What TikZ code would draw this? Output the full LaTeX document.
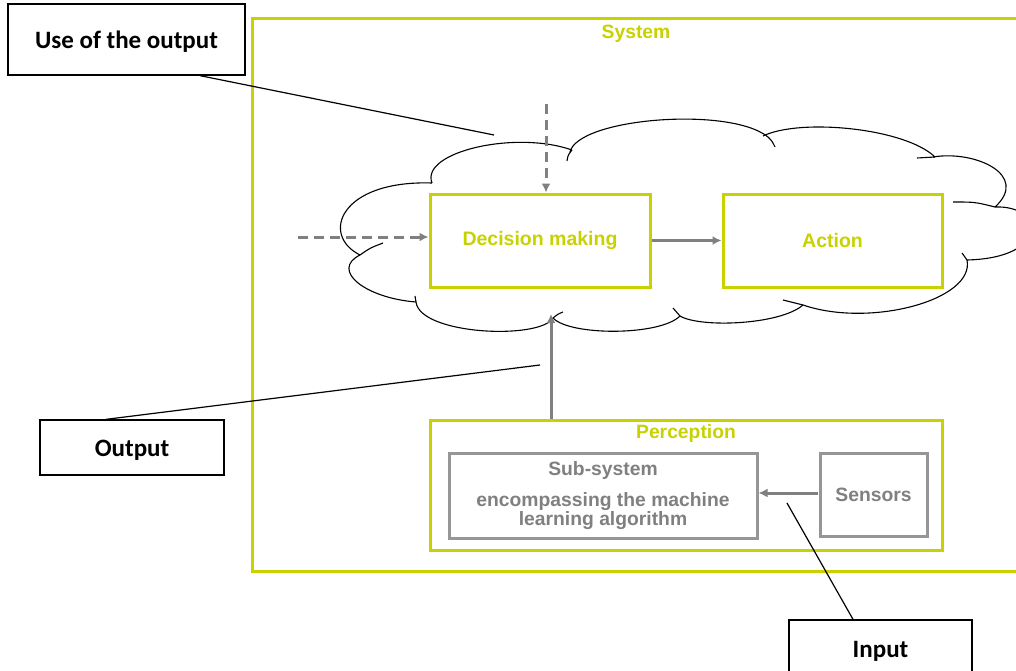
\documentclass[tikz,border=0pt]{standalone}
\usepackage{fontspec}
\setmainfont{Liberation Sans}
\newfontfamily\carlito{Carlito}
\usetikzlibrary{arrows.meta}
\definecolor{ylw}{RGB}{200,210,0}
\definecolor{gry}{RGB}{128,128,128}
\definecolor{gbox}{RGB}{150,150,150}
\begin{document}
\begin{tikzpicture}[x=1pt,y=-1pt,
 lbl/.style={draw=black, line width=1.3pt, fill=white, font=\carlito\bfseries\fontsize{25}{28}\selectfont, inner sep=0pt, text height=23pt, text depth=5pt},
 ybox/.style={draw=ylw, line width=3pt, fill=white, text=ylw, font=\bfseries\fontsize{19.5}{22}\selectfont, inner sep=0pt},
 ytext/.style={text=ylw, font=\bfseries\fontsize{19.3}{22}\selectfont, inner sep=0pt},
 gbx/.style={draw=gbox, line width=3pt, fill=white, text=gry, font=\bfseries\fontsize{19.3}{18.5}\selectfont, inner sep=0pt, align=center},
 garrow/.style={draw=gry, line width=3pt, -{Latex[length=9pt,width=9pt]}},
 dasharrow/.style={garrow, dash pattern=on 10pt off 6pt},
 callout/.style={draw=black, line width=1.2pt},
 cloudline/.style={draw=black, line width=1.1pt}]
\useasboundingbox (0,0) rectangle (1016,671);
\clip (0,0) rectangle (1016,671);
\fill[white] (0,0) rectangle (1016,671);

% system frame
\node[draw=ylw, line width=3pt, minimum width=780pt, minimum height=552pt, inner sep=0pt] (sys) at (642,295) {};
\node[ytext] (systxt) at (636,33.5) {System};

% cloud
\draw[cloudline]
 (432,183) .. controls (420,152) and (515,130) .. (572,150)
 (570,152) .. controls (578,118) and (730,106) .. (768,137)
 (763,136) .. controls (800,118) and (905,128) .. (935,157)
 (933,157) .. controls (975,150) and (1030,175) .. (995,207)
 (995,207) .. controls (1045,205) and (1050,258) .. (967,260)
 (967,260) .. controls (975,300) and (870,328) .. (803,305)
 (803,305) .. controls (780,325) and (700,328) .. (680,316)
 (680,316) .. controls (660,336) and (570,336) .. (553,318)
 (553,318) .. controls (540,340) and (420,335) .. (416,302)
 (416,302) .. controls (365,298) and (330,270) .. (360,255)
 (360,255) .. controls (320,235) and (340,180) .. (432,183);
\draw[cloudline] (572,150) .. controls (568,155) .. (567,161);
\draw[cloudline] (768,137) .. controls (772,141) .. (775,147);
\draw[cloudline] (935,157) .. controls (926,157) .. (917,158);
\draw[cloudline] (995,207) .. controls (975,202) .. (953,202);
\draw[cloudline] (967,260) .. controls (964,257) .. (962,253);
\draw[cloudline] (803,305) .. controls (793,303) .. (783,300);
\draw[cloudline] (680,316) .. controls (676,312) .. (673,308);
\draw[cloudline] (553,318) .. controls (558,314) .. (563,312);
\draw[cloudline] (416,302) .. controls (415,299) .. (415,296);
\draw[cloudline] (360,255) .. controls (370,248) .. (383,243);

% main boxes
\node[ybox, minimum width=220pt, minimum height=93pt] (dm) at (540,240.5) {Decision making};
\node[ybox, minimum width=219pt, minimum height=93pt] (act) at (832.5,240.5) {Action};
\node[ybox, minimum width=512pt, minimum height=130pt] (perc) at (686,485) {};
\node[ytext] (perctxt) at (686,433.5) {Perception};
\node[gbx, minimum width=308pt, minimum height=85pt] (sub) at (603,495.5)
  {Sub-system\\[13pt]encompassing the machine\\learning algorithm};
\node[gbx, minimum width=107pt, minimum height=83pt] (sens) at (873.5,494.5) {Sensors};

% arrows
\draw[garrow] (dm) -- (act);
\coordinate (dtop) at (546,104);
\draw[dasharrow] (dtop) -- (dtop |- dm.north);
\coordinate (dleft) at (298,237);
\draw[dasharrow] (dleft) -- (dleft -| dm.west);
\coordinate (ptop) at (551,314);
\draw[garrow] (ptop |- perc.north) -- (ptop);
\coordinate (sarr) at (818,493);
\draw[garrow] (sarr) -- (sarr -| sub.east);

% callouts
\node[lbl, minimum width=237pt, minimum height=71pt] (use) at (126.5,39.5) {Use of the output};
\node[lbl, minimum width=184pt, minimum height=55pt] (out) at (132,447.5) {Output};
\node[lbl, minimum width=183pt, minimum height=56pt] (inp) at (880.5,648) {Input};
\coordinate (useend) at (494,135);
\coordinate (outend) at (540,365);
\coordinate (inpend) at (787,503);
\draw[callout] ([xshift=73.5pt]use.south) -- (useend);
\draw[callout] ([xshift=-26pt]out.north) -- (outend);
\draw[callout] ([xshift=-27.5pt]inp.north) -- (inpend);
\end{tikzpicture}
\end{document}
